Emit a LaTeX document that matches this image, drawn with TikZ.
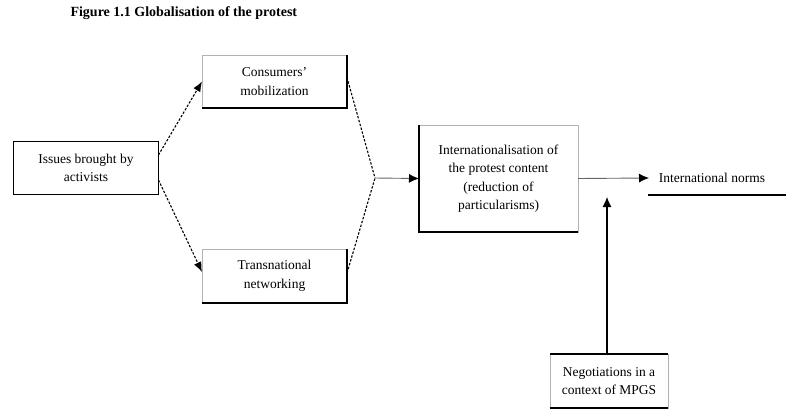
\documentclass[tikz,border=0pt]{standalone}
\usepackage{fontspec}
\setmainfont{Liberation Serif}
\usetikzlibrary{arrows.meta}
\begin{document}
\begin{tikzpicture}[x=1pt,y=-1pt,
  box/.style={draw=gray!60,line width=0.5pt,inner sep=0pt,outer sep=0pt,
    align=center,font=\fontsize{13.5}{18.5}\selectfont},
  heavy/.style={line width=1.6pt,black},
  dotarrow/.style={dash pattern=on 2.4pt off 1.6pt,line width=1.1pt,
    -{Latex[length=10pt,width=8pt]}},
  dotline/.style={dash pattern=on 2.4pt off 1.6pt,line width=1.1pt},
  solidarrow/.style={line width=0.9pt,gray!80!black,
    -{Latex[length=10pt,width=9pt,black]}}]
\useasboundingbox (0,0) rectangle (786,412);

% title
\node[anchor=west,font=\fontsize{14}{16}\bfseries\selectfont] (title) at (67,13)
  {Figure 1.1 Globalisation of the protest};

% boxes
\node[box,minimum width=145pt,minimum height=53pt] (issues) at (86,168)
  {Issues brought by\\activists};
\node[box,minimum width=145pt,minimum height=53pt] (cons) at (274.5,81.5)
  {Consumers'\\mobilization};
\node[box,minimum width=145pt,minimum height=54pt] (trans) at (274.5,276)
  {Transnational\\networking};
\node[box,minimum width=159pt,minimum height=107pt] (intl) at (498.5,178.5)
  {Internationalisation of\\the protest content\\(reduction of\\particularisms)};
\node[box,minimum width=118pt,minimum height=54pt] (neg) at (609,381)
  {Negotiations in a\\context of MPGS};
\node[font=\fontsize{13.5}{16}\selectfont] (norms) at (712,178) {International norms};

% heavy edges of the boxes
\draw[heavy] (issues.north west) -- (issues.north east) -- (issues.south east)
  -- (issues.south west) -- cycle;
\draw[heavy] (cons.north east) -- (cons.south east) -- (cons.south west);
\draw[heavy] (trans.north east) -- (trans.south east) -- (trans.south west);
\draw[heavy] (intl.north west) -- (intl.south west) -- (intl.south east);
\draw[heavy] (neg.north west) -- (neg.north east);
\draw[heavy] (neg.south west) -- (neg.south east);

% underline of the outcome
\coordinate (ulA) at (648,195);
\coordinate (ulB) at (786,195);
\draw[heavy] (ulA) -- (ulB);

% connectors
\coordinate (conv) at (375,178);
\draw[dotarrow] ([yshift=13pt]issues.east) -- (cons.west);
\draw[dotarrow] ([yshift=-12pt]issues.east) -- ([yshift=4pt]trans.west);
\draw[dotline] ([yshift=4pt]cons.east) -- (conv);
\draw[dotline] ([yshift=3pt]trans.east) -- (conv);
\draw[solidarrow] (conv) -- (intl.west);
\coordinate (normsIn) at (649,178);
\draw[solidarrow] (intl.east) -- (normsIn);
\coordinate (negUp) at (607,197);
\draw[line width=1.1pt,-{Latex[length=10pt,width=9pt]}] (neg.north -| negUp) -- (negUp);
\end{tikzpicture}
\end{document}
